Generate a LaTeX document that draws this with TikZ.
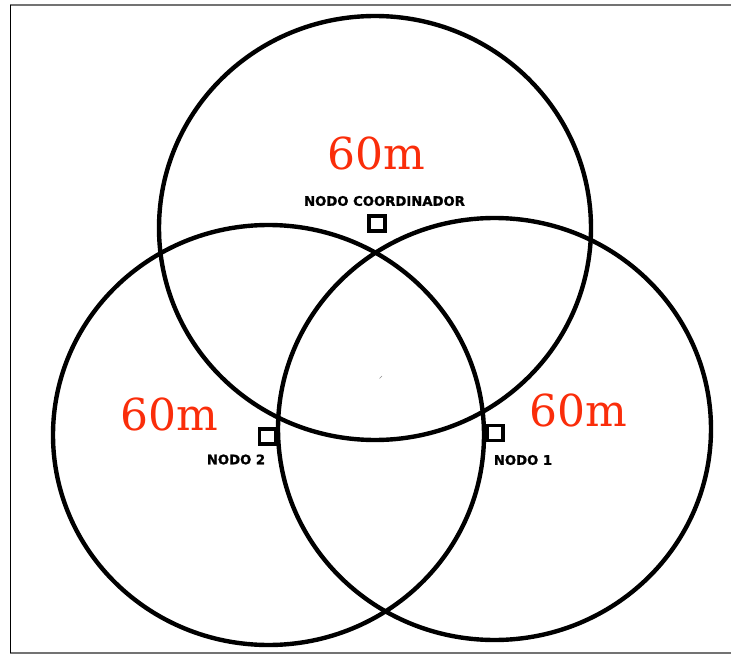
\documentclass[tikz,border=0pt]{standalone}
\usepackage{fontspec}
\newfontfamily\labfont{DejaVu Sans}[BoldFeatures={FakeBold=1.3}]
\newfontfamily\distfont{DejaVu Serif}
\definecolor{distred}{RGB}{250,45,10}
\begin{document}
\begin{tikzpicture}[x=1pt,y=-1pt,
  ring/.style={draw=black,line width=4.4pt},
  nodebox/.style={draw=black,line width=3.6pt,minimum width=16pt,minimum height=15pt,inner sep=0pt},
  dist/.style={text=distred,font=\distfont\fontsize{44}{44}\selectfont,inner sep=0pt},
  lab/.style={text=black,font=\labfont\bfseries\fontsize{13.2}{13.2}\selectfont,inner sep=0pt}]
\useasboundingbox (0,0) rectangle (731,655);
% frame
\draw[black!55,line width=1.2pt] (10,5) -- (731,5);
\draw[black!55,line width=1.2pt] (10,653) -- (731,653);
\draw[black,line width=1pt] (10,5) -- (10,653);
% circles
\draw[ring] (375,228) ellipse [x radius=216, y radius=212];
\draw[ring] (268.5,435) ellipse [x radius=215.5, y radius=210];
\draw[ring] (494.5,429) ellipse [x radius=216.5, y radius=211];
% distances
\node[dist] (d1) at (376.5,153) {60m};
\node[dist] (d2) at (169,414) {60m};
\node[dist] (d3) at (578.5,410) {60m};
% node boxes
\node[nodebox] (nc) at (377,223.5) {};
\node[nodebox] (n2) at (267.5,436.5) {};
\node[nodebox] (n1) at (495,433) {};
% labels
\node[lab] (lc) at (384.5,201) {NODO COORDINADOR};
\node[lab] (l2) at (236,459.5) {NODO 2};
\node[lab] (l1) at (523,460) {NODO 1};
% tiny mark
\draw[black!45,line width=0.6pt] (379.5,378.5) -- (382,376);
\end{tikzpicture}
\end{document}
